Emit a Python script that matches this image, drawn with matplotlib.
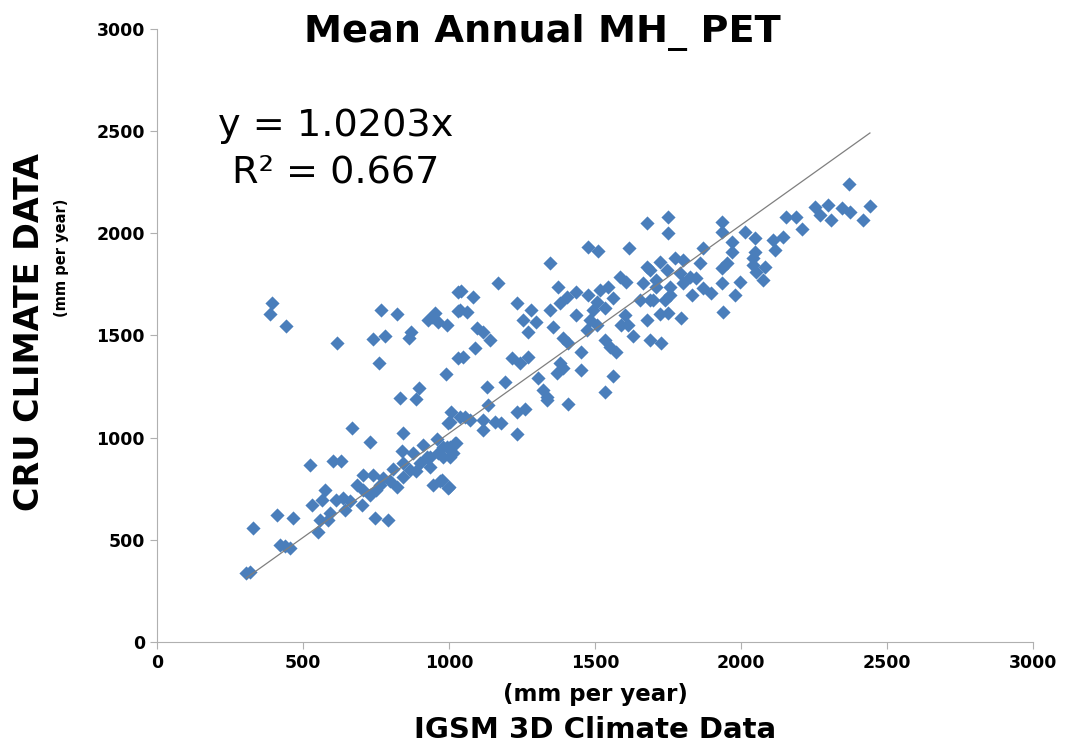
import matplotlib
matplotlib.use('Agg')
import matplotlib.pyplot as plt
import numpy as np

# IGSM 3D (x) vs CRU (y), mm per year
igsm = [307, 318, 330, 410, 421, 438, 455, 467,
        524, 530, 552, 558, 564, 575, 587, 592, 604, 615, 632, 638, 644, 661, 667, 684, 701, 707, 707,
        729, 729, 741, 747, 752, 764, 775, 792, 798, 810, 821, 840, 844, 844, 844, 866, 878, 889, 901,
        912, 924, 935, 935, 946, 958, 963, 969, 981, 981, 992, 998, 998, 1003, 1003, 1003, 975, 1001,
        1009, 1015, 1021, 1026, 1038, 1055, 1072, 1118, 1118, 1135, 1158, 1180, 1232, 1234, 1260,
        1335, 1409,
        393, 389, 444, 618, 741, 760, 766, 782, 821, 834, 863, 872, 889, 898, 929, 941, 952, 963,
        990, 992, 1032, 1032, 1032, 1038, 1043, 1049, 1061, 1083, 1089, 1095, 1118, 1129, 1140,
        1169, 1192, 1215, 1235, 1243, 1254, 1272, 1272, 1283, 1300, 1306, 1323, 1335, 1346, 1346,
        1357, 1369, 1374, 1380, 1380, 1392, 1392, 1403, 1409, 1437, 1437, 1454, 1454, 1472, 1477,
        1477, 1483, 1494, 1506, 1506, 1511, 1517, 1534, 1534, 1534, 1546, 1551, 1563, 1563, 1574,
        1586, 1591, 1603, 1608, 1614, 1618, 1632, 1654, 1666, 1677, 1677, 1679, 1688, 1688, 1688,
        1700, 1711, 1711, 1723, 1723, 1728, 1740, 1746, 1751, 1751, 1751, 1757, 1757, 1774, 1791,
        1796, 1802, 1802, 1825, 1831, 1848, 1860, 1871, 1871, 1899, 1934, 1934, 1934, 1934, 1939,
        1951, 1968, 1968, 1979, 1997, 2014, 2042, 2042, 2048, 2048, 2053, 2076, 2082, 2111, 2116,
        2145, 2156, 2190, 2208, 2253, 2271, 2299, 2310, 2345, 2373, 2419, 2442, 2370]
cru = [336, 344, 557, 622, 475, 467, 459, 605,
       866, 671, 540, 597, 695, 744, 597, 630, 883, 695, 883, 703, 646, 687, 1049, 768, 671, 744, 817,
       719, 980, 817, 605, 744, 768, 801, 597, 785, 845, 760, 935, 1021, 874, 809, 842, 923, 834, 874,
       964, 907, 907, 858, 768, 992, 923, 785, 907, 956, 956, 1070, 752, 956, 1078, 907, 793, 757,
       1123, 923, 973, 973, 1103, 1103, 1087, 1087, 1038, 1160, 1078, 1070, 1127, 1018, 1142,
       1185, 1162,
       1658, 1605, 1547, 1462, 1482, 1364, 1625, 1495, 1605, 1193, 1487, 1519, 1188, 1242, 1576,
       1592, 1609, 1568, 1310, 1552, 1715, 1622, 1389, 1625, 1720, 1397, 1617, 1690, 1438, 1535,
       1519, 1250, 1478, 1756, 1274, 1389, 1658, 1364, 1576, 1519, 1397, 1625, 1568, 1291, 1233,
       1201, 1857, 1625, 1543, 1315, 1739, 1364, 1658, 1340, 1487, 1690, 1462, 1601, 1715, 1331,
       1421, 1527, 1698, 1935, 1576, 1625, 1666, 1552, 1915, 1723, 1225, 1633, 1478, 1739, 1445,
       1302, 1682, 1421, 1788, 1552, 1601, 1764, 1552, 1930, 1495, 1674, 1756, 1837, 1576, 2052,
       1478, 1821, 1674, 1674, 1772, 1739, 1862, 1605, 1462, 1674, 1821, 2082, 2000, 1609, 1739,
       1698, 1878, 1805, 1584, 1870, 1756, 1788, 1698, 1780, 1854, 1927, 1731, 1707, 2057, 2008,
       1756, 1829, 1617, 1854, 1960, 1911, 1698, 1764, 2008, 1845, 1878, 1976, 1911, 1813, 1772,
       1837, 1968, 1919, 1984, 2082, 2082, 2020, 2131, 2090, 2139, 2066, 2122, 2106, 2066, 2134,
       2240]

slope = 1.0203
fit_x = [307, 2442]
ticks = [0, 500, 1000, 1500, 2000, 2500, 3000]

fig = plt.figure(figsize=(10.67, 7.48), dpi=100)
ax = fig.add_axes([0.147, 0.142, 0.821, 0.819])

ax.scatter(igsm, cru, marker='D', s=52, color='#4a7ebb', linewidths=0, zorder=2)
ax.plot(fit_x, [slope * v for v in fit_x], color='#7f7f7f', lw=0.9, zorder=3)

ax.set_xlim(0, 3000)
ax.set_ylim(0, 3000)
ax.set_xticks(ticks)
ax.set_yticks(ticks)
for s in ['top', 'right']:
    ax.spines[s].set_visible(False)
for s in ['left', 'bottom']:
    ax.spines[s].set_color('#b0b0b0')
ax.tick_params(colors='#b0b0b0', length=5, labelcolor='black', labelsize=12.5)
for lab in ax.get_xticklabels() + ax.get_yticklabels():
    lab.set_fontweight('bold')

fig.text(0.508, 0.956, 'Mean Annual MH_ PET', ha='center', va='center',
         fontsize=27.5, fontweight='bold')

eq_font = ['Liberation Sans Narrow', 'DejaVu Sans']
fig.text(0.315, 0.832, 'y = 1.0203x', ha='center', va='center', fontsize=27.5, family=eq_font)
fig.text(0.315, 0.769, 'R² = 0.667', ha='center', va='center', fontsize=27.5, family=eq_font)

fig.text(0.558, 0.071, '(mm per year)', ha='center', va='center', fontsize=16.5, fontweight='bold')
fig.text(0.558, 0.024, 'IGSM 3D Climate Data', ha='center', va='center', fontsize=21, fontweight='bold')
fig.text(0.028, 0.556, 'CRU CLIMATE DATA', ha='center', va='center', rotation=90,
         fontsize=24, fontweight='bold')
fig.text(0.058, 0.655, '(mm per year)', ha='center', va='center', rotation=90,
         fontsize=10.5, fontweight='bold')

fig.savefig('out.png', dpi=100)
